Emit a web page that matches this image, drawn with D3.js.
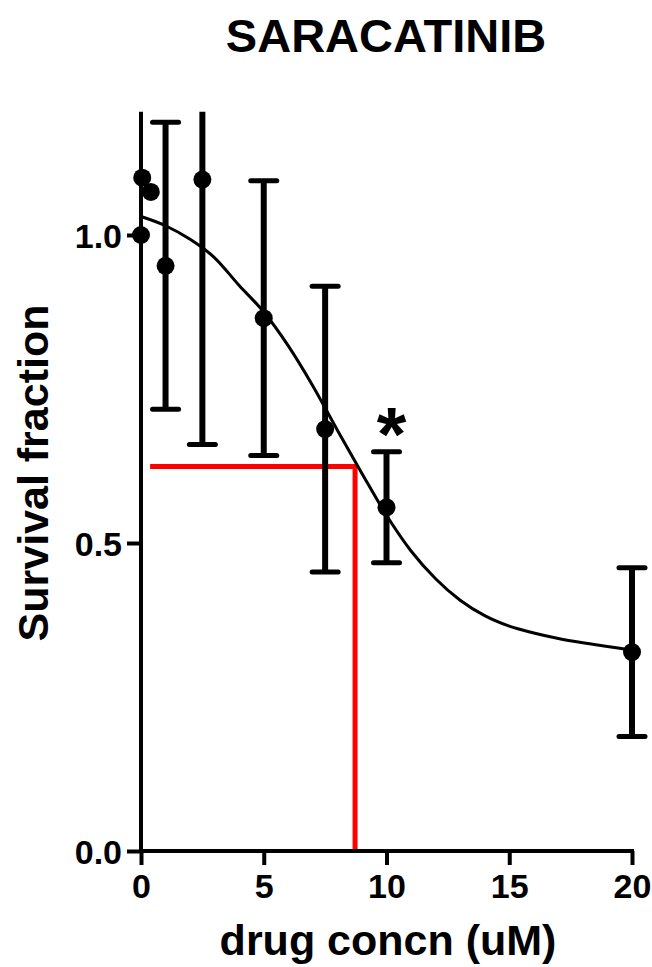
<!DOCTYPE html>
<html lang="en">
<head>
<meta charset="utf-8">
<title>Saracatinib</title>
<script src="https://cdn.jsdelivr.net/npm/d3@7"></script>
<style>
body { margin: 0; background: #fff; }
text { font-family: "Liberation Sans", Arial, sans-serif; font-weight: bold; fill: #000; }
.axis path, .axis line { stroke: #000; stroke-width: 4; fill: none; }
.axis text { font-size: 34px; font-family: "Liberation Sans", Arial, sans-serif; font-weight: bold; }
</style>
</head>
<body>
<script>
var conc   = [0, 0.05, 0.4, 1, 2.5, 5, 7.5, 10, 20];
var surv   = [1.0, 1.093, 1.07, 0.95, 1.09, 0.865, 0.685, 0.558, 0.323];
var errBar = [0, 0, 0, 0.233, 0.43, 0.223, 0.232, 0.09, 0.137];

var fitX = [0, 1, 2, 3, 4, 5, 6, 7, 8, 9, 10, 11, 12, 13, 14, 15, 16, 17, 18, 19, 20];
var fitY = [1.03, 1.015, 0.993, 0.963, 0.918, 0.875, 0.82, 0.755, 0.683, 0.613, 0.545, 0.487, 0.442, 0.407, 0.382, 0.365, 0.354, 0.345, 0.338, 0.332, 0.326];

// red guide lines
var guideStartX = 0.37, guideX = 8.72, guideY = 0.624;

var xTicks = [0, 5, 10, 15, 20];
var yTicks = [0, 0.5, 1.0];
var starAt = [10]; // significance mark

var w = 652, h = 967;
var plotL = 141, plotR = 632, plotT = 111.8, plotB = 851;

var svg = d3.select("body").append("svg")
    .attr("width", w)
    .attr("height", h);

var xScale = d3.scaleLinear().domain([0, 20]).range([plotL, plotR]);
var yScale = d3.scaleLinear().domain([0, 1.2]).range([plotB, plotT]);

svg.append("defs").append("clipPath").attr("id", "plot")
  .append("rect")
    .attr("x", 0).attr("y", plotT)
    .attr("width", w).attr("height", plotB - plotT + 20);

// red lines
svg.append("path")
    .attr("d", "M" + xScale(guideStartX) + "," + yScale(guideY) +
               "H" + xScale(guideX) + "V" + yScale(0))
    .attr("fill", "none")
    .attr("stroke", "#ff0000")
    .attr("stroke-width", 5);

// axes
var xAxis = d3.axisBottom(xScale).tickValues(xTicks).tickSize(14).tickSizeOuter(0).tickPadding(9);
var yAxis = d3.axisLeft(yScale).tickValues(yTicks).tickSize(14).tickSizeOuter(0).tickPadding(5)
    .tickFormat(d3.format(".1f"));

var gx = svg.append("g").attr("class", "axis")
    .attr("transform", "translate(0," + plotB + ")")
    .call(xAxis);
gx.select(".domain").attr("d", "M" + plotL + ",0H" + (plotR + 2));

var gy = svg.append("g").attr("class", "axis")
    .attr("transform", "translate(" + plotL + ",0)")
    .call(yAxis);
gy.select(".domain").attr("d", "M0," + plotT + "V" + (plotB + 2));
gy.selectAll(".tick text").attr("dy", "0.36em");

// fitted curve
var line = d3.line()
    .x(function(d) { return xScale(d); })
    .y(function(d, i) { return yScale(fitY[i]); })
    .curve(d3.curveMonotoneX);

svg.append("path")
    .datum(fitX)
    .attr("d", line)
    .attr("fill", "none")
    .attr("stroke", "#000")
    .attr("stroke-width", 3);

// error bars
var bars = svg.append("g").attr("clip-path", "url(#plot)");
conc.forEach(function(c, i) {
  if (!errBar[i]) return;
  var x = xScale(c);
  var y1 = yScale(surv[i] + errBar[i]), y0 = yScale(surv[i] - errBar[i]);
  bars.append("line").attr("x1", x).attr("x2", x).attr("y1", y1).attr("y2", y0)
      .attr("stroke", "#000").attr("stroke-width", 6);
  [y1, y0].forEach(function(y) {
    bars.append("line").attr("x1", x - 13).attr("x2", x + 13).attr("y1", y).attr("y2", y)
        .attr("stroke", "#000").attr("stroke-width", 5).attr("stroke-linecap", "round");
  });
});

// points
svg.selectAll("circle.pt")
  .data(conc)
  .enter()
  .append("circle")
    .attr("class", "pt")
    .attr("cx", function(d) { return xScale(d); })
    .attr("cy", function(d, i) { return yScale(surv[i]); })
    .attr("r", 9)
    .attr("fill", "#000");

// asterisk
svg.selectAll("text.star")
  .data(starAt)
  .enter()
  .append("text")
    .attr("class", "star")
    .attr("x", function(d) { return xScale(d) + 5; })
    .attr("y", function(d) { return yScale(surv[conc.indexOf(d)] + errBar[conc.indexOf(d)]) + 8; })
    .attr("text-anchor", "middle")
    .attr("font-size", "76px")
    .text("*");

// title and axis labels
svg.append("text")
    .attr("x", 386).attr("y", 52)
    .attr("text-anchor", "middle")
    .attr("font-size", "47px")
    .text("SARACATINIB");

svg.append("text")
    .attr("x", 388).attr("y", 955)
    .attr("text-anchor", "middle")
    .attr("font-size", "43px")
    .text("drug concn (uM)");

svg.append("text")
    .attr("transform", "translate(48,473) rotate(-90)")
    .attr("text-anchor", "middle")
    .attr("font-size", "43px")
    .text("Survival fraction");
</script>
</body>
</html>
